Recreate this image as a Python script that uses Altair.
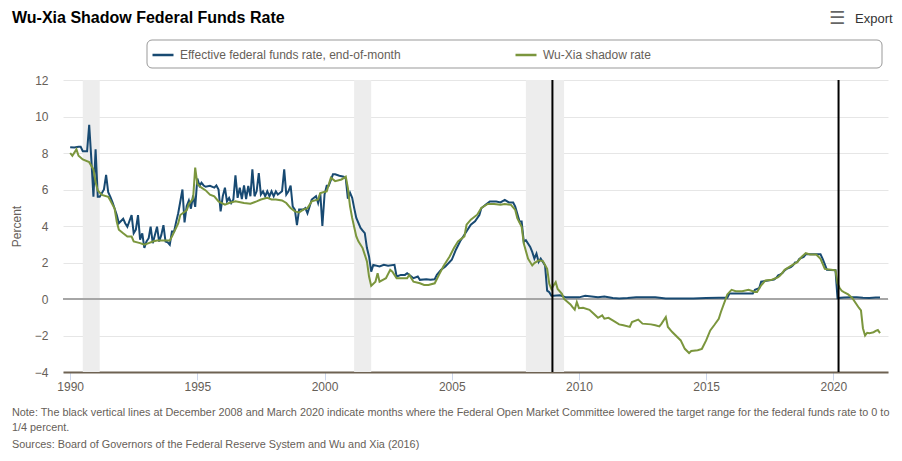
import altair as alt
import pandas as pd

EFF_LABEL = "Effective federal funds rate, end-of-month"
SHADOW_LABEL = "Wu-Xia shadow rate"

eff_dates = [
    "1990-01", "1990-03", "1990-05", "1990-06", "1990-07", "1990-09", "1990-10", "1990-11", "1990-12",
    "1991-01", "1991-02", "1991-03", "1991-05", "1991-06", "1991-07", "1991-08", "1991-09", "1991-11", "1991-12",
    "1992-02", "1992-03", "1992-04", "1992-06", "1992-07", "1992-08", "1992-09", "1992-10", "1992-11", "1992-12",
    "1993-01", "1993-02", "1993-03", "1993-04", "1993-06", "1993-07", "1993-08", "1993-09", "1993-10", "1993-11", "1993-12",
    "1994-01", "1994-02", "1994-03", "1994-04", "1994-06", "1994-07", "1994-08", "1994-09", "1994-10", "1994-11", "1994-12",
    "1995-01", "1995-02", "1995-03", "1995-04", "1995-05", "1995-07", "1995-09", "1995-10", "1995-11", "1995-12",
    "1996-01", "1996-02", "1996-03", "1996-04", "1996-05", "1996-06", "1996-07", "1996-08", "1996-09", "1996-10", "1996-11", "1996-12",
    "1997-01", "1997-02", "1997-03", "1997-04", "1997-05", "1997-06", "1997-07", "1997-08", "1997-09", "1997-10", "1997-11", "1997-12",
    "1998-01", "1998-02", "1998-03", "1998-05", "1998-06", "1998-07", "1998-08", "1998-09", "1998-10", "1998-11", "1998-12",
    "1999-01", "1999-03", "1999-04", "1999-05", "1999-06", "1999-07", "1999-09", "1999-10", "1999-11", "1999-12",
    "2000-01", "2000-02", "2000-03", "2000-05", "2000-06", "2000-08", "2000-10", "2000-11", "2000-12",
    "2001-01", "2001-02", "2001-03", "2001-04", "2001-06", "2001-07", "2001-08", "2001-09", "2001-10", "2001-11", "2001-12",
    "2002-03", "2002-05", "2002-07", "2002-10", "2002-11",
    "2003-01", "2003-03", "2003-04", "2003-06", "2003-07", "2003-09", "2003-10",
    "2004-01", "2004-03", "2004-05", "2004-06", "2004-08", "2004-10",
    "2005-01", "2005-03", "2005-05", "2005-07", "2005-10", "2005-12",
    "2006-02", "2006-03", "2006-05", "2006-07", "2006-10", "2006-12",
    "2007-02", "2007-04", "2007-06", "2007-07", "2007-09", "2007-10", "2007-11", "2007-12",
    "2008-02", "2008-03", "2008-04", "2008-05", "2008-06", "2008-07", "2008-08", "2008-09", "2008-10", "2008-11", "2008-12",
    "2009-01", "2009-04", "2009-07", "2009-10", "2010-01", "2010-04", "2010-07", "2010-10",
    "2011-01", "2011-05", "2011-08", "2011-12", "2012-04", "2012-09", "2013-01", "2013-06",
    "2014-01", "2014-07", "2015-01", "2015-07", "2015-11", "2015-12", "2016-11", "2016-12",
    "2017-02", "2017-03", "2017-09", "2017-10", "2017-11", "2017-12",
    "2018-01", "2018-02", "2018-03", "2018-05", "2018-06", "2018-07", "2018-08", "2018-09", "2018-11", "2018-12",
    "2019-07", "2019-08", "2019-09", "2019-10", "2020-02", "2020-03", "2020-06", "2020-09", "2020-12",
    "2021-03", "2021-06", "2021-09", "2021-11",
]
eff_values = [
    8.32, 8.30, 8.34, 8.34, 8.10, 8.10, 9.55, 7.65, 5.60,
    8.20, 5.60, 5.60, 6.00, 6.80, 5.85, 5.60, 5.30, 4.60, 4.15,
    4.40, 4.15, 3.96, 4.60, 3.60, 3.80, 4.60, 3.25, 3.60, 2.80,
    3.15, 3.33, 3.96, 3.06, 3.96, 3.15, 3.50, 4.05, 3.15, 3.10, 2.97,
    3.70, 3.70, 4.20, 4.70, 6.00, 4.20, 5.10, 5.40, 4.95, 5.67, 5.05,
    6.60, 6.20, 6.37, 6.22, 6.15, 6.20, 6.10, 6.22, 6.00, 4.80,
    5.63, 6.10, 5.35, 5.54, 5.26, 5.45, 6.78, 5.54, 6.10, 5.48, 6.22, 5.48,
    6.20, 5.63, 7.10, 5.63, 5.90, 6.90, 5.72, 5.90, 5.63, 5.90, 5.63, 5.90,
    5.63, 5.90, 5.72, 5.90, 7.10, 5.72, 5.90, 6.22, 5.07, 4.90, 4.05,
    4.90, 4.90, 4.98, 4.70, 5.07, 5.45, 5.63, 5.26, 5.80, 4.00,
    5.72, 6.20, 6.20, 6.83, 6.83, 6.75, 6.70, 6.60, 5.50,
    5.82, 5.54, 4.99, 4.44, 3.89, 3.75, 3.61, 2.79, 2.33, 1.50, 1.87,
    1.78, 1.87, 1.82, 1.87, 1.23,
    1.32, 1.32, 1.41, 1.23, 1.14, 1.23, 1.05,
    1.08, 1.05, 1.08, 1.32, 1.60, 1.78,
    2.15, 2.70, 3.16, 3.52, 4.07, 4.26,
    4.60, 4.97, 5.16, 5.34, 5.34, 5.29,
    5.43, 5.29, 5.29, 5.06, 4.24, 4.24, 3.13, 3.22,
    2.85, 2.58, 2.21, 2.49, 2.03, 2.21, 2.03, 1.84, 0.46, 0.37, 0.18,
    0.18, 0.20, 0.09, 0.10, 0.09, 0.18, 0.14, 0.10,
    0.14, 0.05, 0.03, 0.05, 0.10, 0.10, 0.09, 0.03,
    0.03, 0.03, 0.05, 0.07, 0.07, 0.30, 0.30, 0.50,
    0.60, 0.95, 1.06, 1.15, 1.30, 1.35,
    1.42, 1.57, 1.65, 1.75, 1.85, 2.00, 2.02, 2.20, 2.30, 2.45,
    2.45, 2.20, 1.90, 1.60, 1.58, 0.05, 0.08, 0.09, 0.09,
    0.07, 0.06, 0.08, 0.08,
]

shadow_dates = [
    "1990-01", "1990-02", "1990-04", "1990-05", "1990-07", "1990-10", "1990-12",
    "1991-01", "1991-02", "1991-04", "1991-07", "1991-08", "1991-10", "1991-11", "1991-12",
    "1992-02", "1992-04", "1992-06", "1992-07", "1992-10", "1992-12",
    "1993-02", "1993-04", "1993-06", "1993-09", "1993-12",
    "1994-01", "1994-04", "1994-05", "1994-08", "1994-09", "1994-11", "1994-12",
    "1995-01", "1995-03", "1995-05", "1995-07", "1995-09", "1995-11",
    "1996-02", "1996-04", "1996-07", "1996-11",
    "1997-02", "1997-05", "1997-07", "1997-10", "1997-12",
    "1998-02", "1998-05", "1998-07", "1998-09", "1998-11",
    "1999-01", "1999-03", "1999-05", "1999-07", "1999-10", "1999-11",
    "2000-02", "2000-04", "2000-06", "2000-09", "2000-11", "2000-12",
    "2001-01", "2001-02", "2001-04", "2001-05", "2001-07", "2001-09", "2001-10", "2001-11",
    "2002-01", "2002-02", "2002-03", "2002-05", "2002-06", "2002-08", "2002-09", "2002-11",
    "2003-02", "2003-04", "2003-05", "2003-07", "2003-10", "2003-12",
    "2004-02", "2004-05", "2004-07", "2004-09", "2004-12",
    "2005-02", "2005-04", "2005-07", "2005-08", "2005-10",
    "2006-01", "2006-03", "2006-06", "2006-09", "2006-12",
    "2007-02", "2007-05", "2007-07", "2007-08", "2007-10", "2007-11",
    "2008-01", "2008-03", "2008-04", "2008-06", "2008-08", "2008-10", "2008-11", "2008-12",
    "2009-01", "2009-02", "2009-03", "2009-05", "2009-06", "2009-09", "2009-10", "2009-11", "2009-12",
    "2010-01", "2010-03", "2010-06", "2010-08", "2010-10", "2010-12",
    "2011-01", "2011-03", "2011-05", "2011-08", "2011-10",
    "2012-01", "2012-02", "2012-05", "2012-07", "2012-11",
    "2013-01", "2013-03", "2013-04", "2013-06", "2013-07", "2013-09",
    "2014-01", "2014-03", "2014-05", "2014-06", "2014-09", "2014-11",
    "2015-01", "2015-03", "2015-05", "2015-07", "2015-08", "2015-10", "2015-11",
    "2016-01", "2016-03", "2016-06", "2016-09", "2016-12",
    "2017-01", "2017-03", "2017-05", "2017-08", "2017-11", "2017-12",
    "2018-02", "2018-06", "2018-08", "2018-10", "2018-12",
    "2019-02", "2019-05", "2019-07", "2019-09", "2019-12",
    "2020-02", "2020-03", "2020-04", "2020-05", "2020-06", "2020-08", "2020-10", "2020-12",
    "2021-01", "2021-02", "2021-03", "2021-04", "2021-05", "2021-06", "2021-07", "2021-08",
    "2021-09", "2021-10", "2021-11",
]
shadow_values = [
    8.00, 7.85, 8.20, 7.85, 7.65, 7.50, 7.10,
    6.40, 5.95, 5.70, 5.60, 5.40, 4.95, 4.23, 3.80,
    3.60, 3.42, 3.42, 3.15, 3.06, 2.97,
    3.06, 3.15, 3.20, 3.20, 3.20,
    3.42, 4.14, 4.60, 4.86, 5.20, 5.50, 7.20,
    6.30, 6.10, 5.95, 5.72, 5.63, 5.35,
    5.17, 5.26, 5.35, 5.26,
    5.22, 5.35, 5.45, 5.54, 5.45,
    5.45, 5.40, 5.26, 4.98, 4.80,
    4.74, 4.90, 4.98, 5.35, 5.45, 5.80,
    5.90, 6.65, 6.46, 6.55, 6.70, 6.09,
    5.08, 4.44, 3.43, 3.16, 2.79, 2.06, 1.23, 0.72,
    0.95, 1.41, 0.95, 1.08, 1.14, 1.60, 1.50, 1.14,
    1.14, 1.14, 1.32, 0.95, 0.86, 0.77,
    0.77, 0.86, 1.32, 1.78, 2.33,
    2.79, 3.16, 3.43, 4.07, 4.35,
    4.62, 4.99, 5.21, 5.21, 5.16,
    5.21, 5.16, 4.88, 4.42, 3.96, 3.04,
    2.21, 1.84, 1.97, 2.12, 2.08, 1.66, 0.83, 0.55,
    0.74, 0.92, 0.55, 0.28, 0.00, -0.30, -0.45, -0.59, -0.17,
    -0.50, -0.48, -0.59, -0.81, -1.03, -0.90,
    -1.08, -1.03, -1.17, -1.39, -1.44,
    -1.53, -1.26, -1.13, -1.35, -1.39,
    -1.44, -1.50, -1.35, -0.99, -1.53, -1.81,
    -2.27, -2.73, -2.96, -2.85, -2.81, -2.73,
    -2.27, -1.72, -1.41, -1.08, -0.71, -0.08, 0.25,
    0.50, 0.43, 0.43, 0.50, 0.38,
    0.38, 0.75, 1.02, 1.06, 1.20, 1.30,
    1.60, 1.88, 2.02, 2.30, 2.51,
    2.44, 2.44, 2.20, 1.65, 1.60,
    1.57, 0.85, 0.60, 0.45, 0.38, 0.25, 0.05, -0.30,
    -0.48, -0.62, -1.60, -2.00, -1.85, -1.87, -1.85, -1.82,
    -1.75, -1.70, -1.87,
]

recession_start = ["1990-07-01", "2001-03-01", "2007-12-01"]
recession_end = ["1991-03-01", "2001-11-01", "2009-06-01"]
zero_bound_dates = ["2008-12-16", "2020-03-16"]
y_ticks = [-4, -2, 0, 2, 4, 6, 8, 10, 12]
x_tick_years = [1990, 1995, 2000, 2005, 2010, 2015, 2020]

TITLE = "Wu-Xia Shadow Federal Funds Rate"
NOTE_1 = ("Note: The black vertical lines at December 2008 and March 2020 indicate months where the "
          "Federal Open Market Committee lowered the target range for the federal funds rate to 0 to")
NOTE_2 = "1/4 percent."
SOURCES = "Sources: Board of Governors of the Federal Reserve System and Wu and Xia (2016)"

BLUE = "#184a72"
GREEN = "#7b963d"
TEXT = "#666058"
FONT = "Liberation Sans"
W, H = 825, 292

lines_df = pd.concat([
    pd.DataFrame({"date": [d + "-01" for d in eff_dates], "value": eff_values, "series": EFF_LABEL}),
    pd.DataFrame({"date": [d + "-01" for d in shadow_dates], "value": shadow_values, "series": SHADOW_LABEL}),
], ignore_index=True)
rec_df = pd.DataFrame({"start": recession_start, "end": recession_end})
zlb_df = pd.DataFrame({"date": zero_bound_dates})
zero_df = pd.DataFrame({"y": [0]})

x_scale = alt.Scale(
    type="utc",
    domain=[alt.DateTime(year=1989, month=9, date=20, utc=True),
            alt.DateTime(year=2022, month=2, date=24, utc=True)],
)
x_axis = alt.Axis(
    title=None,
    values=[alt.DateTime(year=y, month=1, date=1, utc=True) for y in x_tick_years],
    format="%Y", grid=False,
    domain=True, domainColor="#6e6252", domainWidth=2,
    ticks=True, tickColor="#ccd6eb", tickSize=8, tickWidth=1,
    labelPadding=1, labelFontSize=12, labelColor=TEXT, labelFont=FONT,
)
y_scale = alt.Scale(domain=[-4, 12], nice=False, zero=False)
y_axis = alt.Axis(
    title="Percent", values=y_ticks, grid=True, gridColor="#e6e6e6", gridWidth=1,
    domain=False, ticks=False, labelPadding=15, labelFontSize=12, labelColor=TEXT, labelFont=FONT,
    titleFontSize=12, titleFontWeight="normal", titleColor=TEXT, titleFont=FONT, titlePadding=11,
)

X = lambda f: alt.X(f, type="temporal", scale=x_scale, axis=x_axis)
Y = lambda f: alt.Y(f, type="quantitative", scale=y_scale, axis=y_axis)

bands = alt.Chart(rec_df).mark_rect(color="#ededed").encode(
    x=X("start"), x2="end:T", y=alt.value(0), y2=alt.value(H)
)
zero_line = alt.Chart(zero_df).mark_rule(color="#a6a6a6", strokeWidth=2).encode(y=Y("y"))
lines = alt.Chart(lines_df).mark_line(strokeWidth=2).encode(
    x=X("date"),
    y=Y("value"),
    color=alt.Color(
        "series:N",
        scale=alt.Scale(domain=[EFF_LABEL, SHADOW_LABEL], range=[BLUE, GREEN]),
        legend=alt.Legend(
            title=None, orient="none", legendX=88, legendY=-37, direction="horizontal",
            symbolType="stroke", symbolSize=441, symbolStrokeWidth=2.5, labelOffset=5,
            labelFontSize=12, labelColor=TEXT, labelFont=FONT, columnPadding=109, padding=0,
            labelLimit=400,
        ),
    ),
)
zlb_rules = alt.Chart(zlb_df).mark_rule(color="black", strokeWidth=2).encode(x=X("date"))

one = alt.Data(values=[{}])
legend_box = alt.Chart(one).mark_rect(
    fill="white", fillOpacity=0, stroke="#999999", strokeWidth=1, cornerRadius=5
).encode(x=alt.value(84), x2=alt.value(819), y=alt.value(-40), y2=alt.value(-12))

def label(txt, x, y, size=10.85, color=TEXT, font=FONT, weight="normal"):
    return alt.Chart(one).mark_text(
        align="left", baseline="middle", fontSize=size, color=color, font=font, fontWeight=weight
    ).encode(x=alt.value(x), y=alt.value(y), text=alt.value(txt))

note1 = label(NOTE_1, -51, 333)
note2 = label(NOTE_2, -51, 348)
sources = label(SOURCES, -51, 365)
export_icon = label("\u2630", 766, -61, size=18, color="#666666", font="DejaVu Sans", weight="bold")
export_text = label("Export", 792, -61, size=13, color="#333333")

chart = alt.layer(
    bands, zero_line, lines, zlb_rules, legend_box, note1, note2, sources, export_icon, export_text
).properties(
    width=W, height=H,
    title=alt.TitleParams(
        text=TITLE, anchor="start", frame="group", dx=-51, dy=16, fontSize=16, font=FONT,
        fontWeight="bold", color="#000000", offset=0,
    ),
    autosize=alt.AutoSizeParams(type="none"),
    padding={"left": 55, "top": 72, "right": 6, "bottom": 81},
).configure_view(stroke=None)

chart.save("out.html", embed_options={"renderer": "svg", "actions": False})
